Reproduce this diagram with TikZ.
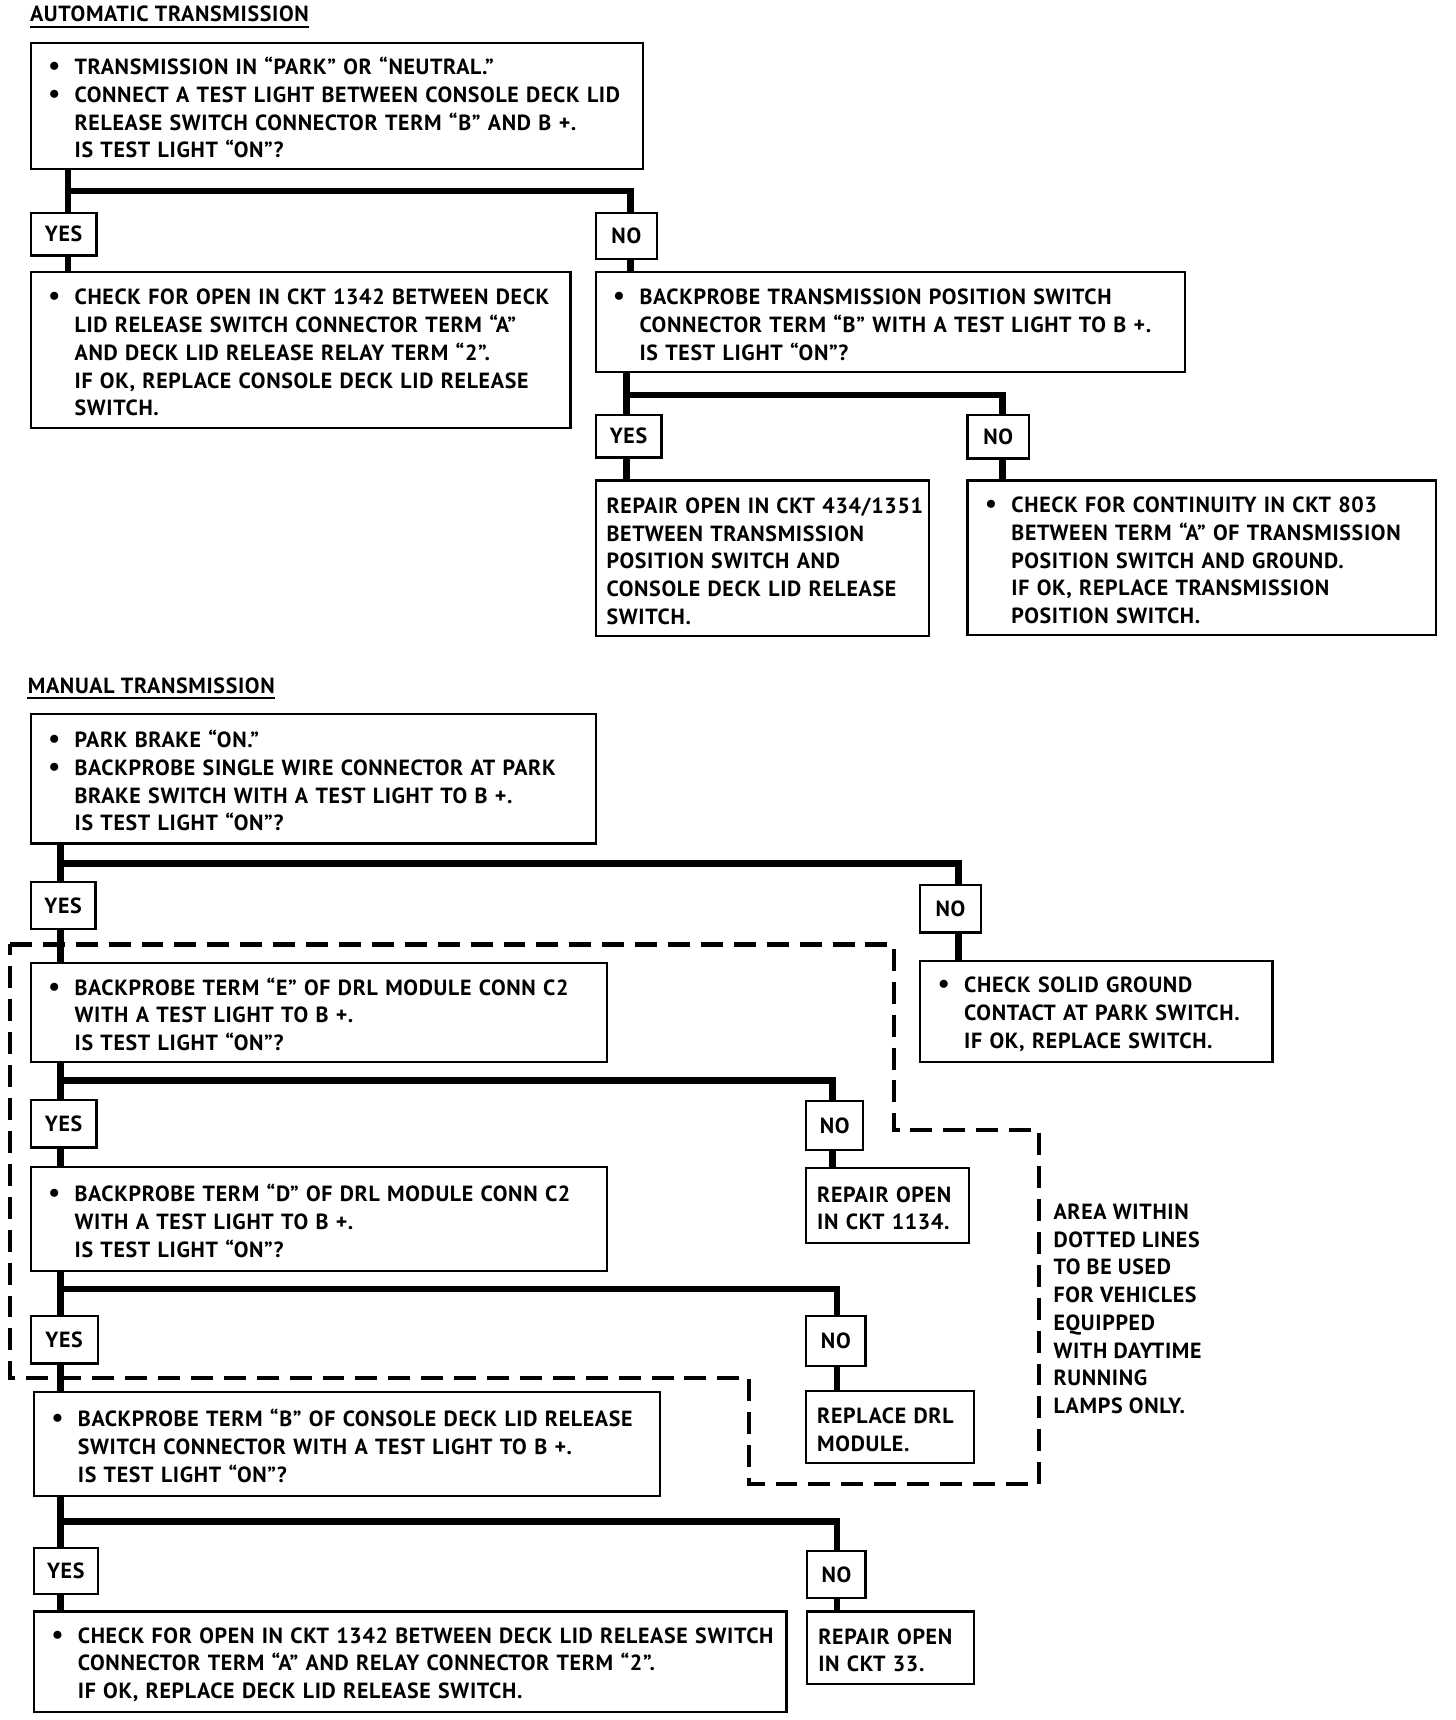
\documentclass[tikz,border=0pt]{standalone}
\usepackage{fontspec}
\setmainfont{PT Sans}[LetterSpace=3]
\newcommand{\dtxt}{\fontsize{10pt}{12.65pt}\selectfont\bfseries}
\newcommand{\nl}{\hfil\break}
\newcommand{\bp}{\par\noindent\hangindent=20pt\hangafter=1\hspace*{8pt}\makebox[12pt][l]{\fontsize{12pt}{12pt}\selectfont •}}
\newcommand{\np}{\par\noindent\hangindent=5pt\hangafter=0 }
\newcommand{\ep}{\par\vspace{3pt}\hrule height 0pt width 0pt}
\tikzset{
  bx/.style 2 args={draw, line width=1pt, anchor=north west, minimum width=#1, minimum height=#2,
    text width=#1, inner xsep=0pt, inner ysep=0pt, align=left, font=\dtxt},
  lab/.style 2 args={draw, line width=1pt, anchor=north west, minimum width=#1, minimum height=#2,
    inner sep=0pt, font=\dtxt},
  conn/.style={line width=3pt},
  dsh/.style={line width=2pt, dash pattern=on 10pt off 5pt},
  ttl/.style={anchor=base west, inner sep=0pt, font=\dtxt},
}
\begin{document}
\begin{tikzpicture}[x=0.5pt, y=-0.5pt]
\useasboundingbox (0,0) rectangle (1327,1568);

% ---------------- AUTOMATIC ----------------
\node[ttl] (t1) at (27,20) {AUTOMATIC TRANSMISSION};
\draw[line width=0.8pt] ([yshift=-2.2pt]t1.base west) -- ([yshift=-2.2pt]t1.base east);

\node[bx={279pt}{57.5pt}] (a1) at (27,38) {\bp TRANSMISSION IN “PARK” OR “NEUTRAL.”
\bp CONNECT A TEST LIGHT BETWEEN CONSOLE DECK LID\nl RELEASE SWITCH CONNECTOR TERM “B” AND B +.\nl IS TEST LIGHT “ON”?\ep};
\node[lab={30pt}{19.5pt}] (y1) at (27,193) {YES};
\node[lab={28pt}{21pt}] (n1) at (542,193) {NO};
\node[bx={246pt}{71pt}] (a2) at (27,247) {\bp CHECK FOR OPEN IN CKT 1342 BETWEEN DECK\nl LID RELEASE SWITCH CONNECTOR TERM “A”\nl AND DECK LID RELEASE RELAY TERM “2”.\nl IF OK, REPLACE CONSOLE DECK LID RELEASE\nl SWITCH.\ep};
\node[bx={268.5pt}{45.5pt}] (a3) at (542,247) {\bp BACKPROBE TRANSMISSION POSITION SWITCH\nl CONNECTOR TERM “B” WITH A TEST LIGHT TO B +.\nl IS TEST LIGHT “ON”?\ep};
\node[lab={30pt}{19.5pt}] (y2) at (542,377) {YES};
\node[lab={28pt}{20pt}] (n2) at (881,377) {NO};
\node[bx={152pt}{71pt}] (a4) at (542,437) {\np REPAIR OPEN IN CKT 434/1351\nl BETWEEN TRANSMISSION\nl POSITION SWITCH AND\nl CONSOLE DECK LID RELEASE\nl SWITCH.\ep};
\node[bx={213.5pt}{70.5pt}] (a5) at (881,437) {\bp CHECK FOR CONTINUITY IN CKT 803\nl BETWEEN TERM “A” OF TRANSMISSION\nl POSITION SWITCH AND GROUND.\nl IF OK, REPLACE TRANSMISSION\nl POSITION SWITCH.\ep};

\coordinate (j1) at (62,174); \coordinate (k1) at (575,174);
\draw[conn] (j1 |- a1.south) -- (j1 |- y1.north);
\draw[conn] (j1) -- (k1) -- (k1 |- n1.north);
\draw[conn] (j1 |- y1.south) -- (j1 |- a2.north);
\draw[conn] (k1 |- n1.south) -- (k1 |- a3.north);

\coordinate (j2) at (571,360); \coordinate (k2) at (914,360);
\draw[conn] (j2 |- a3.south) -- (j2 |- y2.north);
\draw[conn] (j2) -- (k2) -- (k2 |- n2.north);
\draw[conn] (j2 |- y2.south) -- (j2 |- a4.north);
\draw[conn] (k2 |- n2.south) -- (k2 |- a5.north);

% ---------------- MANUAL ----------------
\node[ttl] (t2) at (25,632) {MANUAL TRANSMISSION};
\draw[line width=0.8pt] ([yshift=-2.2pt]t2.base west) -- ([yshift=-2.2pt]t2.base east);

\node[bx={257.5pt}{59pt}] (m1) at (27,650) {\bp PARK BRAKE “ON.”
\bp BACKPROBE SINGLE WIRE CONNECTOR AT PARK\nl BRAKE SWITCH WITH A TEST LIGHT TO B +.\nl IS TEST LIGHT “ON”?\ep};
\node[lab={29.5pt}{21.5pt}] (y3) at (27,803) {YES};
\node[lab={27.5pt}{21.5pt}] (n3) at (838,806) {NO};
\node[bx={160.5pt}{46pt}] (m1n) at (838,875) {\bp CHECK SOLID GROUND\nl CONTACT AT PARK SWITCH.\nl IF OK, REPLACE SWITCH.\ep};
\node[bx={262.5pt}{45pt}] (m2) at (27,877) {\bp BACKPROBE TERM “E” OF DRL MODULE CONN C2\nl WITH A TEST LIGHT TO B +.\nl IS TEST LIGHT “ON”?\ep};
\node[lab={30pt}{21.5pt}] (y4) at (27,1002) {YES};
\node[lab={26pt}{22pt}] (n4) at (734,1003) {NO};
\node[bx={74pt}{34pt}] (m2n) at (734,1064) {\np REPAIR OPEN\nl IN CKT 1134.\ep};
\node[bx={262.5pt}{47.5pt}] (m3) at (27,1063) {\bp BACKPROBE TERM “D” OF DRL MODULE CONN C2\nl WITH A TEST LIGHT TO B +.\nl IS TEST LIGHT “ON”?\ep};
\node[lab={30.5pt}{21.5pt}] (y5) at (27,1199) {YES};
\node[lab={27pt}{22.5pt}] (n5) at (734,1199) {NO};
\node[bx={76.5pt}{33pt}] (m3n) at (734,1267) {\np REPLACE DRL\nl MODULE.\ep};
\node[bx={285.5pt}{47.5pt}] (m4) at (30,1268) {\bp BACKPROBE TERM “B” OF CONSOLE DECK LID RELEASE\nl SWITCH CONNECTOR WITH A TEST LIGHT TO B +.\nl IS TEST LIGHT “ON”?\ep};
\node[lab={29pt}{21pt}] (y6) at (30,1410) {YES};
\node[lab={26.5pt}{21.5pt}] (n6) at (735,1413) {NO};
\node[bx={343pt}{46pt}] (m5) at (30,1468) {\bp CHECK FOR OPEN IN CKT 1342 BETWEEN DECK LID RELEASE SWITCH\nl CONNECTOR TERM “A” AND RELAY CONNECTOR TERM “2”.\nl IF OK, REPLACE DECK LID RELEASE SWITCH.\ep};
\node[bx={76pt}{33pt}] (m5n) at (735,1468) {\np REPAIR OPEN\nl IN CKT 33.\ep};

\coordinate (j3) at (55,787); \coordinate (k3) at (874,787);
\draw[conn] (j3 |- m1.south) -- (j3 |- y3.north);
\draw[conn] (j3) -- (k3) -- (k3 |- n3.north);
\draw[conn] (j3 |- y3.south) -- (j3 |- m2.north);
\draw[conn] (k3 |- n3.south) -- (k3 |- m1n.north);

\coordinate (j4) at (55,985); \coordinate (k4) at (759,985);
\draw[conn] (j4 |- m2.south) -- (j4 |- y4.north);
\draw[conn] (j4) -- (k4) -- (k4 |- n4.north);
\draw[conn] (j4 |- y4.south) -- (j4 |- m3.north);
\draw[conn] (k4 |- n4.south) -- (k4 |- m2n.north);

\coordinate (j5) at (55,1175); \coordinate (k5) at (763,1175);
\draw[conn] (j5 |- m3.south) -- (j5 |- y5.north);
\draw[conn] (j5) -- (k5) -- (k5 |- n5.north);
\draw[conn] (j5 |- y5.south) -- (j5 |- m4.north);
\draw[conn] (k5 |- n5.south) -- (k5 |- m3n.north);

\coordinate (j6) at (55,1387); \coordinate (k6) at (763,1387);
\draw[conn] (j6 |- m4.south) -- (j6 |- y6.north);
\draw[conn] (j6) -- (k6) -- (k6 |- n6.north);
\draw[conn] (j6 |- y6.south) -- (j6 |- m5.north);
\draw[conn] (k6 |- n6.south) -- (k6 |- m5n.north);

% dashed area
\draw[dsh] (9,861) -- (815,861) -- (815,1030) -- (947,1030) -- (947,1353) -- (683,1353) -- (683,1256) -- (9,1256) -- cycle;
\node[anchor=north west, inner sep=0pt, align=left, font=\dtxt] (note) at (960,1097)
  {AREA WITHIN\\ DOTTED LINES\\ TO BE USED\\ FOR VEHICLES\\ EQUIPPED\\ WITH DAYTIME\\ RUNNING\\ LAMPS ONLY.};
\end{tikzpicture}
\end{document}
